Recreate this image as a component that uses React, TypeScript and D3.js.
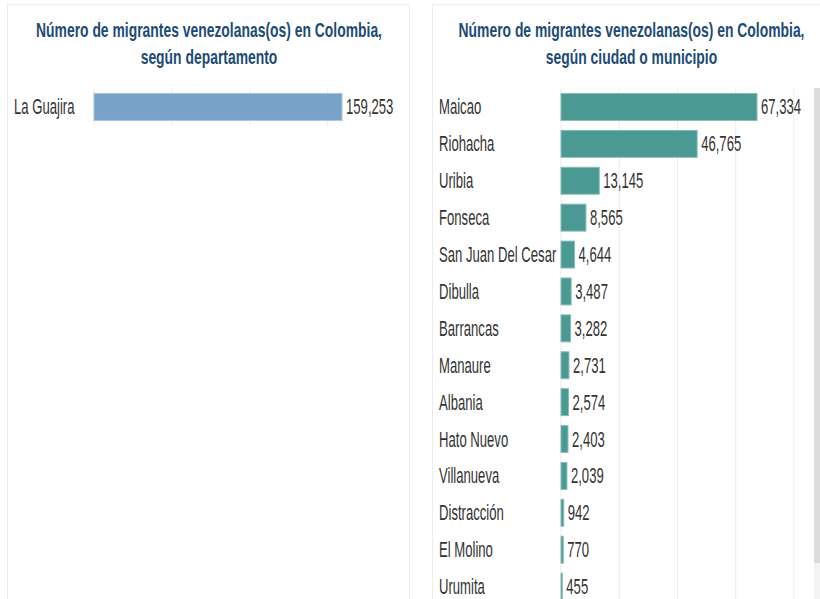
import React from "react";
import * as d3 from "d3";

const deptNames = ["La Guajira"];
const deptValues = [159253];

const cityNames = [
  "Maicao", "Riohacha", "Uribia", "Fonseca", "San Juan Del Cesar", "Dibulla",
  "Barrancas", "Manaure", "Albania", "Hato Nuevo", "Villanueva", "Distracción",
  "El Molino", "Urumita",
];
const cityValues = [67334, 46765, 13145, 8565, 4644, 3487, 3282, 2731, 2574, 2403, 2039, 942, 770, 455];

const deptTicks = [0, 50000, 100000, 150000];
const cityTicks = [0, 20000, 40000, 60000, 80000];

const titleLeft = ["Número de migrantes venezolanas(os) en Colombia,", "según departamento"];
const titleRight = ["Número de migrantes venezolanas(os) en Colombia,", "según ciudad o municipio"];

const W = 820;
const H = 599;
const FONT = "'Liberation Sans', Arial, sans-serif";
const SX = 0.61;
const TITLE_SX = 0.695;
const LABEL_SIZE = 21.5;
const fmt = d3.format(",");

function Label({ x, y, children }: { x: number; y: number; children: React.ReactNode }) {
  return (
    <text transform={`translate(${x},${y}) scale(${SX},1)`} dy="0.35em">
      {children}
    </text>
  );
}

function Title({ cx, lines }: { cx: number; lines: string[] }) {
  return (
    <g fontFamily={FONT} fontWeight="bold" fontSize={20} fill="#1d4b74" textAnchor="middle">
      {lines.map((l, i) => (
        <text key={i} transform={`translate(${cx},${37 + i * 27}) scale(${TITLE_SX},1)`}>{l}</text>
      ))}
    </g>
  );
}

export default function App() {
  const yDept = d3.scaleBand<string>().domain(deptNames).range([88.5, 125.4]).paddingInner(0.27).paddingOuter(0.135);
  const xDept = d3.scaleLinear().domain([0, 200000]).range([94, 405.5]);

  const yCity = d3.scaleBand<string>().domain(cityNames).range([88.5, 88.5 + 36.9 * 14]).paddingInner(0.27).paddingOuter(0.135);
  const xCity = d3.scaleLinear().domain([0, 90000]).range([561, 823]);

  const textColor = "#333333";

  return (
    <svg width={W} height={H} style={{ position: "absolute", left: 0, top: 0, background: "#fff" }}>
      <rect x={0} y={0} width={W} height={H} fill="#ffffff" />
      {/* panels */}
      <rect x={7.5} y={4.5} width={402} height={H} fill="none" stroke="#ececec" />
      <rect x={432.5} y={4.5} width={400} height={H} fill="none" stroke="#ececec" />

      {/* titles */}
      <Title cx={209} lines={titleLeft} />
      <Title cx={631.5} lines={titleRight} />

      {/* left gridlines */}
      {deptTicks.map((t) => (
        <line key={t} x1={xDept(t)} x2={xDept(t)} y1={yDept.range()[0]} y2={yDept.range()[1]} stroke="#ececec" />
      ))}
      {/* right gridlines */}
      {cityTicks.map((t) => (
        <line key={t} x1={xCity(t)} x2={xCity(t)} y1={yCity.range()[0]} y2={H} stroke="#ececec" />
      ))}

      {/* left bars */}
      <g fontFamily={FONT} fontSize={LABEL_SIZE} fill={textColor}>
        {deptNames.map((n, i) => {
          const cy = (yDept(n) as number) + yDept.bandwidth() / 2;
          return (
            <g key={n}>
              <Label x={14} y={cy}>{n}</Label>
              <rect x={xDept(0)} y={yDept(n)} width={xDept(deptValues[i]) - xDept(0)} height={yDept.bandwidth()} fill="#77a3c9" stroke="#a9c5de" strokeWidth={1} />
              <Label x={xDept(deptValues[i]) + 4} y={cy}>{fmt(deptValues[i])}</Label>
            </g>
          );
        })}
      </g>

      {/* right bars */}
      <g fontFamily={FONT} fontSize={LABEL_SIZE} fill={textColor}>
        {cityNames.map((n, i) => {
          const cy = (yCity(n) as number) + yCity.bandwidth() / 2;
          return (
            <g key={n}>
              <Label x={439} y={cy}>{n}</Label>
              <rect x={xCity(0)} y={yCity(n)} width={xCity(cityValues[i]) - xCity(0)} height={yCity.bandwidth()} fill="#4a9a93" stroke="#86bdb8" strokeWidth={1} />
              <Label x={xCity(cityValues[i]) + 4} y={cy}>{fmt(cityValues[i])}</Label>
            </g>
          );
        })}
      </g>

      {/* scrollbar */}
      <rect x={814} y={563} width={6} height={H - 563} fill="#f3f3f3" />
      <rect x={814} y={88} width={6} height={475} fill="#dcdcdc" />
    </svg>
  );
}
